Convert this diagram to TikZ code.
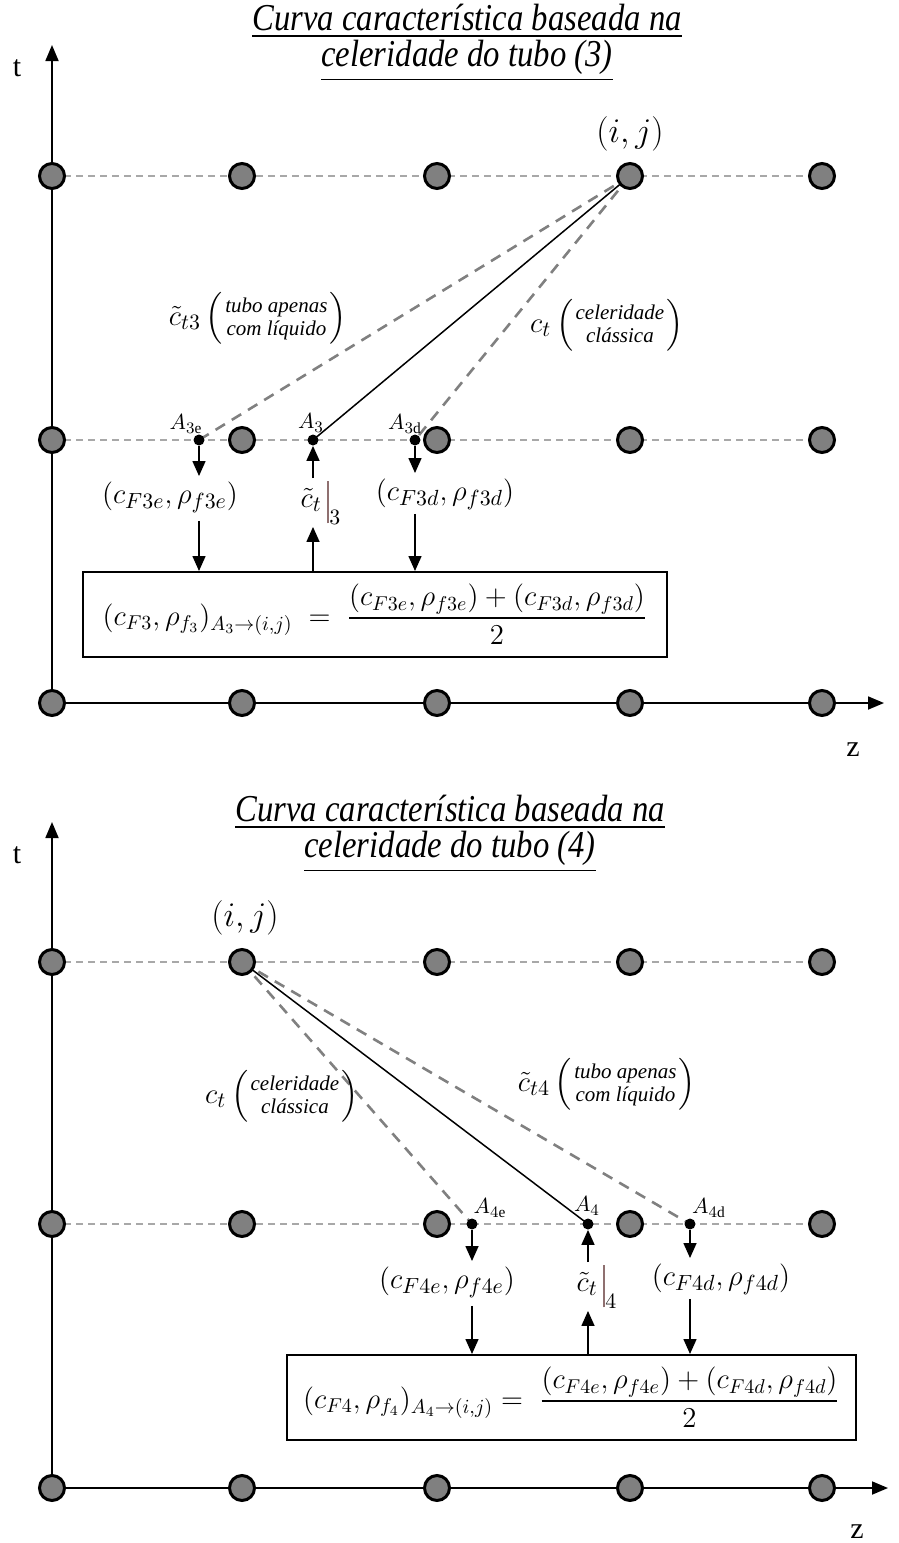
\documentclass[tikz,border=0pt]{standalone}
\usepackage{amsmath}
\usepackage{fontspec}
\setmainfont{Liberation Serif}
\newfontfamily\ttlfont[FakeStretch=0.86]{Liberation Serif}
\usetikzlibrary{arrows.meta,calc}
\definecolor{NodeClr}{rgb}{0.5,0.5,0.5}
\definecolor{RowClr}{rgb}{0.66,0.66,0.66}
\definecolor{CharClr}{rgb}{0.5,0.5,0.5}
\definecolor{BarClr}{rgb}{0.56,0.44,0.44}

\newcommand{\ctbar}[1]{\tilde{c}_t\mkern3mu{\textcolor{BarClr}{\rule[-8pt]{1.4pt}{21pt}}}_{#1}}
\newcommand{\inpar}[2]{\left(\genfrac{}{}{0pt}{1}{\textit{#1}}{\textit{#2}}\right)}

\begin{document}
\begin{tikzpicture}[x=0.5pt,y=-0.5pt,
  gridpt/.style={circle,draw,line width=1.5pt,fill=NodeClr,minimum size=12.5pt,inner sep=0pt},
  footpt/.style={circle,fill=black,minimum size=5.5pt,inner sep=0pt},
  rowline/.style={RowClr,line width=0.75pt,dash pattern=on 3.5pt off 2.5pt},
  charline/.style={CharClr,line width=1.3pt,dash pattern=on 5.5pt off 4pt},
  axisline/.style={line width=0.9pt,-{Triangle[width=6.5pt,length=8pt]}},
  arr/.style={line width=0.75pt,-{Triangle[width=6.5pt,length=7.5pt]}},
  eqbox/.style={draw,line width=1pt,minimum height=42.5pt,inner sep=0pt,font=\fontsize{14}{17}\selectfont},
  lbl/.style={inner sep=0pt,font=\fontsize{15}{18}\selectfont},
  ptlbl/.style={inner sep=0pt,font=\fontsize{11}{13}\selectfont},
  ijlbl/.style={inner sep=0pt,font=\fontsize{18}{21}\selectfont},
  axlbl/.style={inner sep=0pt,font=\fontsize{15}{18}\selectfont},
  ttl/.style={align=center,inner sep=0pt,font=\ttlfont\fontsize{19}{18}\selectfont\itshape}]

\useasboundingbox (0,0) rectangle (899,1543);

%% --- curva (3) ---
\foreach \x [count=\i] in {52,242,437,630,822}{
  \coordinate (u\i) at (\x,176);
  \coordinate (v\i) at (\x,440);
  \coordinate (w\i) at (\x,703);
}
\coordinate (A3e) at (199,440);
\coordinate (A3) at (313,440);
\coordinate (A3d) at (415,440);
\coordinate (tend3) at (52,45);
\coordinate (zend3) at (884,703);

\draw[rowline] (u1) -- (u5);
\draw[rowline] (v1) -- (v5);
\draw[axisline] (w1) -- (tend3);
\draw[axisline] (w1) -- (zend3);
\draw[charline] (u4) -- (A3e);
\draw[charline] (u4) -- (A3d);
\draw[line width=0.75pt] (u4) -- (A3);

\foreach \r in {u,v,w}{
  \foreach \i in {1,...,5}{
    \node[gridpt] (n\r\i) at (\r\i) {};
  }
}
\node[footpt] (dA3e) at (A3e) {};
\node[footpt] (dA3) at (A3) {};
\node[footpt] (dA3d) at (A3d) {};

\node[ttl] (title3) at (467,43) {\underline{Curva característica baseada na}\\\underline{celeridade do tubo (3)}};
\node[axlbl] (tlbl3) at (17,68) {t};
\node[axlbl] (zlbl3) at (853,750) {z};
\node[ijlbl] (ij3) at (630,134) {$(i,j)$};

\node[ptlbl] (lA3e) at (186,424) {$A_{3\mathrm{e}}$};
\node[ptlbl] (lA3) at (311,423) {$A_{3}$};
\node[ptlbl] (lA3d) at (405,424) {$A_{3\mathrm{d}}$};

\node[lbl] (ch3) at (258,318) {$\tilde{c}_{t3}\inpar{tubo apenas}{com líquido}$};
\node[lbl] (cl3) at (607,325) {$c_t\inpar{celeridade}{clássica}$};

\node[lbl] (Fe3) at (170,497) {$(c_{F3e},\rho_{f3e})$};
\node[lbl] (ct3) at (321,503) {$\ctbar{3}$};
\node[lbl] (Fd3) at (445,494) {$(c_{F3d},\rho_{f3d})$};

\node[eqbox,minimum width=292pt] (box3) at (375,614.5)
  {$(c_{F3},\rho_{f_3})_{A_3\to(i,j)}\;=\;\dfrac{(c_{F3e},\rho_{f3e})+(c_{F3d},\rho_{f3d})}{2}$};

\draw[arr,shorten >=2.5pt] (dA3e) -- (dA3e |- Fe3.north);
\draw[arr,shorten <=4pt] (dA3e |- Fe3.south) -- (dA3e |- box3.north);
\draw[arr,shorten <=1.5pt] (dA3 |- ct3.north) -- (dA3);
\draw[arr,shorten >=1pt] (dA3 |- box3.north) -- (dA3 |- ct3.south);
\draw[arr,shorten >=2.5pt] (dA3d) -- (dA3d |- Fd3.north);
\draw[arr,shorten <=2pt] (dA3d |- Fd3.south) -- (dA3d |- box3.north);

%% --- curva (4) ---
\foreach \x [count=\i] in {52,242,437,630,822}{
  \coordinate (p\i) at (\x,962);
  \coordinate (q\i) at (\x,1224);
  \coordinate (r\i) at (\x,1488);
}
\coordinate (A4e) at (472,1224);
\coordinate (A4) at (588,1224);
\coordinate (A4d) at (690,1224);
\coordinate (tend4) at (52,822);
\coordinate (zend4) at (888,1488);

\draw[rowline] (p1) -- (p5);
\draw[rowline] (q1) -- (q5);
\draw[axisline] (r1) -- (tend4);
\draw[axisline] (r1) -- (zend4);
\draw[charline] (p2) -- (A4e);
\draw[charline] (p2) -- (A4d);
\draw[line width=0.75pt] (p2) -- (A4);

\foreach \r in {p,q,r}{
  \foreach \i in {1,...,5}{
    \node[gridpt] (n\r\i) at (\r\i) {};
  }
}
\node[footpt] (dA4e) at (A4e) {};
\node[footpt] (dA4) at (A4) {};
\node[footpt] (dA4d) at (A4d) {};

\node[ttl] (title4) at (450,834) {\underline{Curva característica baseada na}\\\underline{celeridade do tubo (4)}};
\node[axlbl] (tlbl4) at (17,855) {t};
\node[axlbl] (zlbl4) at (857,1532) {z};
\node[ijlbl] (ij4) at (245,918) {$(i,j)$};

\node[ptlbl] (lA4e) at (490,1208) {$A_{4\mathrm{e}}$};
\node[ptlbl] (lA4) at (587,1206) {$A_{4}$};
\node[ptlbl] (lA4d) at (709,1208) {$A_{4\mathrm{d}}$};

\node[lbl] (cl4) at (282,1096) {$c_t\inpar{celeridade}{clássica}$};
\node[lbl] (ch4) at (607,1084) {$\tilde{c}_{t4}\inpar{tubo apenas}{com líquido}$};

\node[lbl] (Fe4) at (447,1282) {$(c_{F4e},\rho_{f4e})$};
\node[lbl] (ct4) at (597,1287) {$\ctbar{4}$};
\node[lbl] (Fd4) at (721,1279) {$(c_{F4d},\rho_{f4d})$};

\node[eqbox,minimum width=284.5pt] (box4) at (571.5,1397.5)
  {$(c_{F4},\rho_{f_4})_{A_4\to(i,j)}=\;\dfrac{(c_{F4e},\rho_{f4e})+(c_{F4d},\rho_{f4d})}{2}$};

\draw[arr,shorten >=2.5pt] (dA4e) -- (dA4e |- Fe4.north);
\draw[arr,shorten <=4pt] (dA4e |- Fe4.south) -- (dA4e |- box4.north);
\draw[arr,shorten <=1.5pt] (dA4 |- ct4.north) -- (dA4);
\draw[arr,shorten >=1pt] (dA4 |- box4.north) -- (dA4 |- ct4.south);
\draw[arr,shorten >=2.5pt] (dA4d) -- (dA4d |- Fd4.north);
\draw[arr,shorten <=2pt] (dA4d |- Fd4.south) -- (dA4d |- box4.north);

\end{tikzpicture}
\end{document}
